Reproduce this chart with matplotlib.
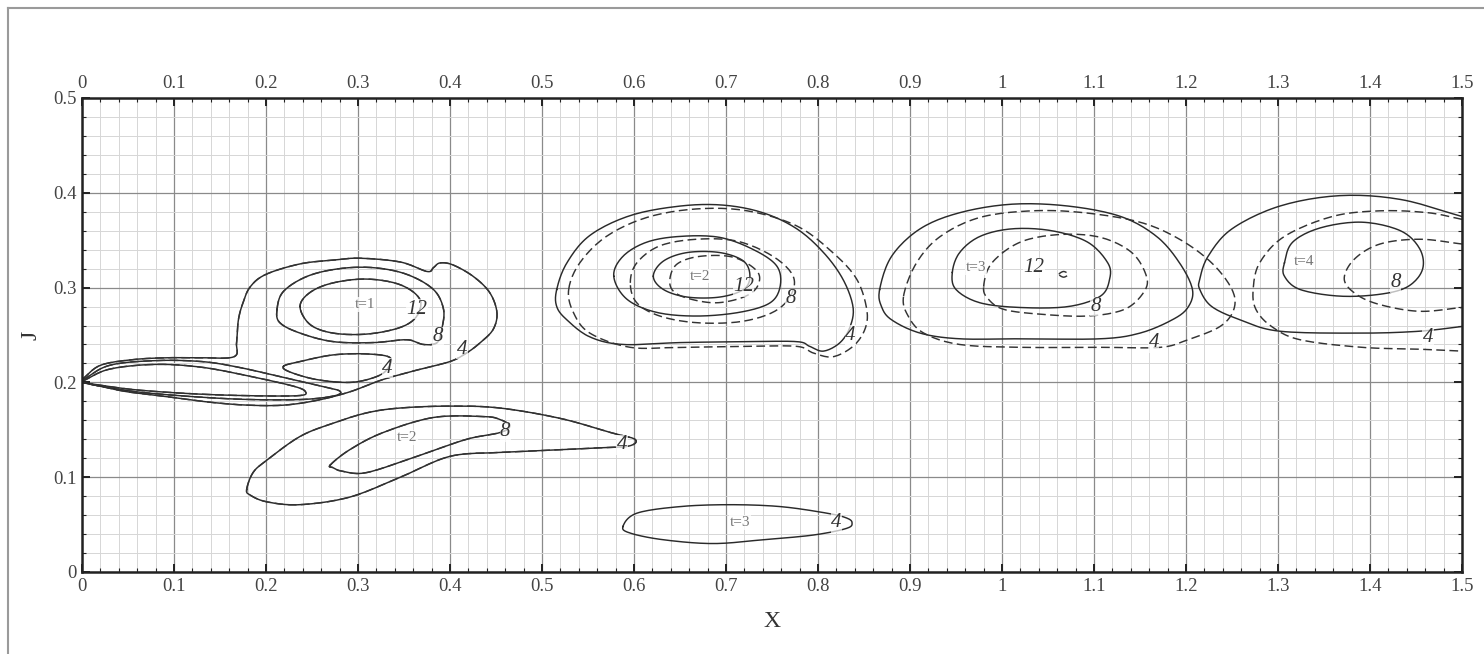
import matplotlib
matplotlib.use("Agg")
import matplotlib.pyplot as plt
from matplotlib.ticker import MultipleLocator
from matplotlib.lines import Line2D
import numpy as np

plt.rcParams['font.family'] = ['Liberation Serif', 'DejaVu Serif']

# ---------------- data: contour curves ----------------
# t=1 group (solid and dashed nearly coincide)
t1_c4_x = [0.0, 0.02, 0.055, 0.092, 0.128, 0.165, 0.168, 0.17, 0.175, 0.183, 0.2, 0.237, 0.273, 0.302, 0.346, 0.375, 0.382, 0.389, 0.403, 0.425, 0.443, 0.451, 0.447, 0.433, 0.418, 0.4, 0.364, 0.327, 0.291, 0.255, 0.219, 0.18, 0.14, 0.1, 0.05, 0.02, 0.0]
t1_c4_y = [0.203, 0.218, 0.224, 0.226, 0.226, 0.227, 0.242, 0.266, 0.284, 0.301, 0.314, 0.325, 0.329, 0.331, 0.327, 0.317, 0.321, 0.326, 0.324, 0.312, 0.295, 0.274, 0.256, 0.242, 0.231, 0.222, 0.213, 0.203, 0.19, 0.181, 0.176, 0.176, 0.179, 0.184, 0.19, 0.196, 0.2]
t1_tongueA_x = [0.0, 0.03, 0.08, 0.13, 0.18, 0.23, 0.243, 0.235, 0.18, 0.12, 0.06, 0.02, 0.0]
t1_tongueA_y = [0.201, 0.214, 0.219, 0.216, 0.207, 0.196, 0.19, 0.186, 0.186, 0.188, 0.192, 0.197, 0.2]
t1_tongueB_x = [0.0, 0.03, 0.08, 0.13, 0.17, 0.22, 0.26, 0.28, 0.275, 0.24, 0.18, 0.12, 0.06, 0.02, 0.0]
t1_tongueB_y = [0.202, 0.218, 0.223, 0.222, 0.216, 0.205, 0.196, 0.191, 0.186, 0.182, 0.182, 0.185, 0.19, 0.196, 0.2]
t1_c4b_x = [0.219, 0.237, 0.273, 0.31, 0.335, 0.331, 0.317, 0.291, 0.255, 0.226, 0.219]
t1_c4b_y = [0.217, 0.222, 0.229, 0.23, 0.226, 0.213, 0.205, 0.2, 0.203, 0.211, 0.217]
t1_c8_x = [0.212, 0.219, 0.245, 0.28, 0.317, 0.353, 0.382, 0.393, 0.391, 0.386, 0.371, 0.353, 0.317, 0.273, 0.237, 0.215, 0.212]
t1_c8_y = [0.277, 0.296, 0.312, 0.32, 0.321, 0.314, 0.298, 0.277, 0.256, 0.242, 0.24, 0.245, 0.242, 0.243, 0.252, 0.263, 0.277]
t1_c12_x = [0.237, 0.248, 0.273, 0.31, 0.346, 0.367, 0.364, 0.346, 0.31, 0.273, 0.248, 0.237]
t1_c12_y = [0.28, 0.295, 0.305, 0.309, 0.303, 0.288, 0.27, 0.258, 0.251, 0.252, 0.261, 0.28]

# lower-left t=2 blob
b2_c4_x = [0.179, 0.186, 0.201, 0.237, 0.273, 0.31, 0.346, 0.4, 0.454, 0.52, 0.575, 0.601, 0.595, 0.563, 0.52, 0.476, 0.454, 0.4, 0.346, 0.291, 0.237, 0.201, 0.183, 0.179]
b2_c4_y = [0.087, 0.105, 0.118, 0.143, 0.157, 0.168, 0.173, 0.175, 0.173, 0.162, 0.147, 0.14, 0.133, 0.131, 0.129, 0.127, 0.126, 0.122, 0.1, 0.079, 0.071, 0.074, 0.081, 0.087]
b2_c8_x = [0.27, 0.291, 0.327, 0.382, 0.436, 0.454, 0.465, 0.454, 0.418, 0.364, 0.31, 0.284, 0.273, 0.27]
b2_c8_y = [0.113, 0.129, 0.147, 0.163, 0.164, 0.161, 0.154, 0.147, 0.14, 0.122, 0.105, 0.106, 0.11, 0.113]

# t=2 middle group
m_c4s_x = [0.516, 0.527, 0.552, 0.596, 0.65, 0.697, 0.74, 0.777, 0.806, 0.827, 0.838, 0.835, 0.824, 0.806, 0.791, 0.777, 0.723, 0.65, 0.588, 0.552, 0.527, 0.516, 0.516]
m_c4s_y = [0.298, 0.326, 0.355, 0.376, 0.386, 0.387, 0.379, 0.362, 0.337, 0.309, 0.28, 0.259, 0.242, 0.233, 0.238, 0.243, 0.243, 0.242, 0.24, 0.248, 0.266, 0.28, 0.298]
m_c4d_x = [0.529, 0.541, 0.57, 0.614, 0.668, 0.723, 0.777, 0.816, 0.842, 0.853, 0.851, 0.838, 0.816, 0.795, 0.777, 0.723, 0.65, 0.596, 0.552, 0.534, 0.529]
m_c4d_y = [0.298, 0.326, 0.354, 0.374, 0.383, 0.381, 0.365, 0.337, 0.309, 0.277, 0.256, 0.238, 0.227, 0.231, 0.238, 0.238, 0.237, 0.237, 0.252, 0.274, 0.298]
m_c8s_x = [0.578, 0.588, 0.614, 0.65, 0.693, 0.73, 0.755, 0.759, 0.748, 0.715, 0.668, 0.624, 0.592, 0.578]
m_c8s_y = [0.312, 0.333, 0.348, 0.354, 0.353, 0.34, 0.323, 0.302, 0.284, 0.274, 0.27, 0.274, 0.288, 0.312]
m_c8d_x = [0.596, 0.603, 0.628, 0.668, 0.712, 0.751, 0.773, 0.77, 0.751, 0.715, 0.668, 0.628, 0.603, 0.596]
m_c8d_y = [0.305, 0.326, 0.344, 0.351, 0.349, 0.333, 0.312, 0.291, 0.274, 0.264, 0.263, 0.27, 0.284, 0.305]
m_c12s_x = [0.621, 0.632, 0.658, 0.693, 0.719, 0.726, 0.719, 0.693, 0.658, 0.632, 0.621]
m_c12s_y = [0.312, 0.328, 0.337, 0.337, 0.328, 0.312, 0.298, 0.29, 0.29, 0.298, 0.312]
m_c12d_x = [0.639, 0.647, 0.672, 0.708, 0.734, 0.734, 0.719, 0.69, 0.661, 0.643, 0.639]
m_c12d_y = [0.309, 0.325, 0.333, 0.332, 0.317, 0.301, 0.29, 0.284, 0.288, 0.296, 0.309]

# bottom t=3 ellipse
e3_x = [0.588, 0.603, 0.65, 0.704, 0.759, 0.81, 0.831, 0.837, 0.831, 0.795, 0.74, 0.686, 0.632, 0.596, 0.588]
e3_y = [0.048, 0.062, 0.069, 0.071, 0.069, 0.062, 0.057, 0.052, 0.046, 0.039, 0.034, 0.03, 0.034, 0.041, 0.048]

# t=3 group
r3_c4s_x = [0.867, 0.88, 0.911, 0.954, 1.011, 1.072, 1.129, 1.168, 1.193, 1.207, 1.202, 1.185, 1.15, 1.107, 1.02, 0.954, 0.911, 0.88, 0.869, 0.867]
r3_c4s_y = [0.298, 0.333, 0.362, 0.379, 0.388, 0.386, 0.375, 0.354, 0.326, 0.298, 0.279, 0.266, 0.252, 0.246, 0.246, 0.246, 0.252, 0.266, 0.28, 0.298]
r3_c4d_x = [0.893, 0.907, 0.933, 0.976, 1.033, 1.089, 1.15, 1.193, 1.228, 1.25, 1.252, 1.237, 1.202, 1.172, 1.107, 1.02, 0.954, 0.915, 0.898, 0.893]
r3_c4d_y = [0.291, 0.326, 0.354, 0.374, 0.381, 0.379, 0.369, 0.351, 0.326, 0.298, 0.277, 0.259, 0.245, 0.237, 0.237, 0.237, 0.24, 0.252, 0.27, 0.291]
r3_c8s_x = [0.946, 0.954, 0.976, 1.011, 1.054, 1.093, 1.115, 1.117, 1.107, 1.072, 1.02, 0.976, 0.95, 0.946]
r3_c8s_y = [0.316, 0.337, 0.354, 0.362, 0.36, 0.348, 0.326, 0.309, 0.291, 0.28, 0.279, 0.284, 0.298, 0.316]
r3_c8d_x = [0.98, 0.989, 1.02, 1.063, 1.107, 1.141, 1.157, 1.154, 1.133, 1.093, 1.041, 1.002, 0.985, 0.98]
r3_c8d_y = [0.301, 0.326, 0.348, 0.356, 0.353, 0.337, 0.312, 0.295, 0.277, 0.27, 0.272, 0.277, 0.288, 0.301]
r3_c12_x = [1.062, 1.067, 1.072, 1.067, 1.062]
r3_c12_y = [0.314, 0.317, 0.314, 0.311, 0.314]

# t=4 group (open at the right edge)
r4_c4s_x = [1.5, 1.433, 1.367, 1.302, 1.25, 1.224, 1.215, 1.215, 1.228, 1.259, 1.302, 1.391, 1.454, 1.5]
r4_c4s_y = [0.375, 0.393, 0.397, 0.386, 0.362, 0.333, 0.309, 0.298, 0.28, 0.266, 0.254, 0.252, 0.254, 0.259]
r4_c4d_x = [1.5, 1.463, 1.411, 1.359, 1.307, 1.28, 1.273, 1.276, 1.293, 1.324, 1.391, 1.454, 1.5]
r4_c4d_y = [0.372, 0.379, 0.381, 0.375, 0.354, 0.326, 0.298, 0.277, 0.259, 0.245, 0.237, 0.235, 0.233]
r4_c8s_x = [1.307, 1.316, 1.346, 1.391, 1.433, 1.454, 1.457, 1.441, 1.411, 1.367, 1.324, 1.307, 1.307]
r4_c8s_y = [0.326, 0.348, 0.363, 0.369, 0.36, 0.341, 0.319, 0.301, 0.293, 0.291, 0.298, 0.312, 0.326]
r4_c8d_x = [1.5, 1.454, 1.411, 1.383, 1.372, 1.385, 1.411, 1.454, 1.5]
r4_c8d_y = [0.346, 0.351, 0.346, 0.33, 0.309, 0.293, 0.282, 0.275, 0.279]

# labels
time_labels = ["t=1", "t=2", "t=2", "t=3", "t=3", "t=4"]
time_x = [0.308, 0.353, 0.672, 0.715, 0.972, 1.328]
time_y = [0.282, 0.142, 0.312, 0.052, 0.321, 0.328]
level_labels = ["12", "8", "4", "4", "8", "4", "12", "8", "4", "4", "12", "8", "4", "8", "4"]
level_x = [0.364, 0.387, 0.413, 0.332, 0.46, 0.587, 0.719, 0.77, 0.835, 0.82, 1.035, 1.102, 1.165, 1.428, 1.463]
level_y = [0.277, 0.248, 0.235, 0.215, 0.148, 0.134, 0.301, 0.288, 0.25, 0.052, 0.321, 0.28, 0.242, 0.305, 0.247]

x_ticks = [0, 0.1, 0.2, 0.3, 0.4, 0.5, 0.6, 0.7, 0.8, 0.9, 1, 1.1, 1.2, 1.3, 1.4, 1.5]
x_ticklabels = ["0", "0.1", "0.2", "0.3", "0.4", "0.5", "0.6", "0.7", "0.8", "0.9", "1", "1.1", "1.2", "1.3", "1.4", "1.5"]
y_ticks = [0, 0.1, 0.2, 0.3, 0.4, 0.5]
y_ticklabels = ["0", "0.1", "0.2", "0.3", "0.4", "0.5"]


def smooth(xs, ys, n=12):
    """Render-time Catmull-Rom smoothing of a polyline through the read points."""
    p = np.column_stack([xs, ys]).astype(float)
    closed = np.allclose(p[0], p[-1])
    if closed:
        core = p[:-1]
        ext = np.vstack([core[-1], core, core[0], core[1]])
    else:
        ext = np.vstack([2 * p[0] - p[1], p, 2 * p[-1] - p[-2]])
    out = []
    t = np.linspace(0, 1, n, endpoint=False)[:, None]
    for i in range(1, len(ext) - 2):
        p0, p1, p2, p3 = ext[i - 1], ext[i], ext[i + 1], ext[i + 2]
        seg = 0.5 * ((2 * p1) + (-p0 + p2) * t + (2 * p0 - 5 * p1 + 4 * p2 - p3) * t ** 2
                     + (-p0 + 3 * p1 - 3 * p2 + p3) * t ** 3)
        out.append(seg)
    out.append(ext[-2][None, :])
    out = np.vstack(out)
    return out[:, 0], out[:, 1]


# ---------------- figure ----------------
W, H = 1484, 654
fig = plt.figure(figsize=(W / 100, H / 100), dpi=100)
ax = fig.add_axes([82 / W, (H - 572) / H, (1462 - 82) / W, (572 - 98) / H])
ax.set_xlim(0, 1.5)
ax.set_ylim(0, 0.5)

ax.xaxis.set_minor_locator(MultipleLocator(0.02))
ax.yaxis.set_minor_locator(MultipleLocator(0.02))
ax.set_xticks(x_ticks)
ax.set_xticklabels(x_ticklabels)
ax.set_yticks(y_ticks)
ax.set_yticklabels(y_ticklabels)
ax.grid(which='major', color='#8a8a8a', lw=0.9)
ax.grid(which='minor', color='#d6d6d6', lw=0.7)
ax.set_axisbelow(True)
ax.tick_params(which='both', direction='in', top=True, right=True, labeltop=True,
               labelsize=13.5, colors='#222222', labelcolor='#444444', pad=4)
ax.tick_params(which='major', length=6, width=1.4)
ax.tick_params(which='minor', length=3, width=0.8)
for s in ax.spines.values():
    s.set_linewidth(1.8)
    s.set_color('#222222')

ax.set_xlabel("X", fontsize=17, color='#333333', labelpad=12)
ax.set_ylabel("J", fontsize=17, color='#333333', labelpad=8)

solid = dict(color='#2a2a2a', lw=1.05, ls='-', solid_joinstyle='round')
dashed = dict(color='#333333', lw=1.05, ls=(0, (6, 3)), dash_joinstyle='round')

# coincident t=1 curves: both solid and dashed
for xs, ys in [(t1_c4_x, t1_c4_y), (t1_tongueA_x, t1_tongueA_y), (t1_tongueB_x, t1_tongueB_y),
               (t1_c4b_x, t1_c4b_y), (t1_c8_x, t1_c8_y), (t1_c12_x, t1_c12_y),
               (b2_c4_x, b2_c4_y), (b2_c8_x, b2_c8_y)]:
    sx, sy = smooth(xs, ys)
    ax.plot(sx, sy, **solid)
    ax.plot(sx, sy, **dashed)

for xs, ys in [(m_c4s_x, m_c4s_y), (m_c8s_x, m_c8s_y), (m_c12s_x, m_c12s_y),
               (e3_x, e3_y), (r3_c4s_x, r3_c4s_y), (r3_c8s_x, r3_c8s_y),
               (r4_c4s_x, r4_c4s_y), (r4_c8s_x, r4_c8s_y)]:
    ax.plot(*smooth(xs, ys), **solid)

for xs, ys in [(m_c4d_x, m_c4d_y), (m_c8d_x, m_c8d_y), (m_c12d_x, m_c12d_y),
               (r3_c4d_x, r3_c4d_y), (r3_c8d_x, r3_c8d_y), (r3_c12_x, r3_c12_y),
               (r4_c4d_x, r4_c4d_y), (r4_c8d_x, r4_c8d_y)]:
    ax.plot(*smooth(xs, ys), **dashed)

for lab, x, y in zip(time_labels, time_x, time_y):
    ax.text(x, y, lab, fontsize=11, color='#777777', ha='center', va='center',
            bbox=dict(facecolor='white', edgecolor='none', pad=0.5, alpha=0.8))
for lab, x, y in zip(level_labels, level_x, level_y):
    ax.text(x, y, lab, fontsize=15, style='italic', color='#333333', ha='center', va='center',
            bbox=dict(facecolor='white', edgecolor='none', pad=0.3, alpha=0.7))

# outer frame of the figure (left and top edges visible)
fig.add_artist(Line2D([8 / W, 8 / W], [0, 1 - 8 / H], transform=fig.transFigure, color='#9a9a9a', lw=1.5))
fig.add_artist(Line2D([8 / W, 1], [1 - 8 / H, 1 - 8 / H], transform=fig.transFigure, color='#9a9a9a', lw=1.5))

fig.savefig("out.png", dpi=100)
